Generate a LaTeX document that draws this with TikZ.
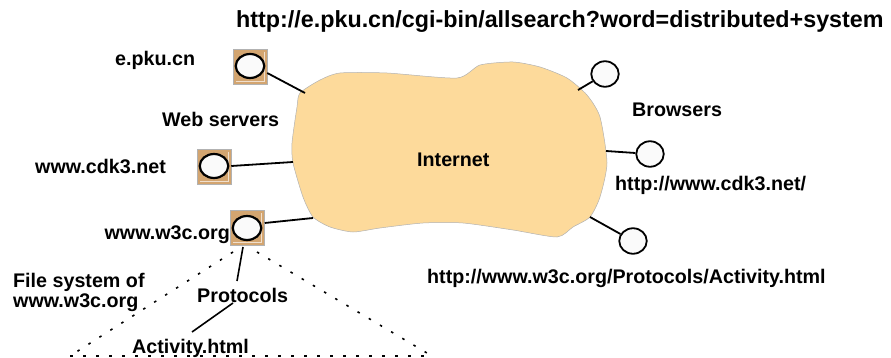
\documentclass[tikz,border=0pt]{standalone}
\usepackage{fontspec}
\setmainfont{Liberation Sans}
\usetikzlibrary{shapes.geometric}
\definecolor{cloudfill}{RGB}{253,218,155}
\definecolor{boxfill}{RGB}{211,165,112}
\definecolor{circfill}{RGB}{250,250,250}
\tikzset{
  lbl/.style={inner sep=0pt, font=\fontsize{19.7}{22}\selectfont\bfseries},
  ttl/.style={inner sep=0pt, font=\fontsize{23.3}{26}\selectfont\bfseries},
  srvbox/.style={draw=gray!60, line width=0.5pt, fill=boxfill, minimum width=34pt, minimum height=35pt, inner sep=0pt},
  srvcirc/.style={ellipse, draw=black, line width=2.2pt, fill=circfill, minimum width=28.5pt, minimum height=24pt, inner sep=0pt},
  brcirc/.style={ellipse, draw=black, line width=1.8pt, fill=circfill, minimum width=27.5pt, minimum height=25.5pt, inner sep=0pt},
  conn/.style={line width=1.8pt, draw=black},
  dotline/.style={line width=1.6pt, dash pattern=on 2.5pt off 10.5pt},
  bevel/.style={draw=white!65!boxfill, line width=0.7pt}
}
\begin{document}
\begin{tikzpicture}[x=1pt,y=-1pt]
\useasboundingbox (0,0) rectangle (891,358);
% cloud
\draw[fill=cloudfill, draw=gray!60, line width=0.5pt] plot[smooth cycle, tension=0.4] coordinates {
(300,93) (320,80) (340,73) (387,73) (457,78) (480,65) (513,62) (540,67) (567,78) (587,95) (600,117) (607,163) (600,197) (590,217) (573,227) (557,237) (513,230) (463,223) (423,223) (380,228) (353,232) (330,227) (313,217) (303,197) (293,163) (292,143) (297,107)};
\coordinate (cA) at (305,93);
\coordinate (cB) at (293,162);
\coordinate (cC) at (313,218);
\coordinate (cD) at (578,90);
\coordinate (cE) at (606,151);
\coordinate (cF) at (590,217);
% title
\node[ttl, anchor=base west] (title) at (236,28) {http://e.pku.cn/cgi-bin/allsearch?word=distributed+system};
% server boxes
\node[srvbox] (box1) at (250,66.5) {};
\node[srvbox] (box2) at (214,166.5) {};
\node[srvbox] (box3) at (247.5,227.5) {};
\foreach \b in {box1,box2,box3}{
  \draw[bevel] ([xshift=-3pt,yshift=-3pt]\b.north east) -- ([xshift=-3pt,yshift=3pt]\b.south east) -- ([xshift=3pt,yshift=3pt]\b.south west);
}
\node[srvcirc] (s1) at (250,66) {};
\node[srvcirc] (s2) at (214,166) {};
\node[srvcirc] (s3) at (247,228) {};
% connectors servers
\draw[conn] (box1.east |- 0,73) coordinate (b1e) -- (cA);
\draw[conn] (box2.east |- 0,166) coordinate (b2e) -- (cB);
\draw[conn] (box3.east |- 0,223) coordinate (b3e) -- (cC);
% browsers
\node[brcirc] (br1) at (605,74) {};
\node[brcirc] (br2) at (650,154) {};
\node[brcirc] (br3) at (633,241) {};
\draw[conn] (cD) -- (br1);
\draw[conn] (cE) -- (br2);
\draw[conn] (cF) -- (br3);
% labels
\node[lbl, anchor=base west] (lpku) at (115,66) {e.pku.cn};
\node[lbl, anchor=base west] (lweb) at (162,127) {Web servers};
\node[lbl, anchor=base west] (lcdk) at (35,174) {www.cdk3.net};
\node[lbl, anchor=base east] (lw3c) at (230,240) {www.w3c.org};
\node[lbl, anchor=base west] (lfs1) at (13,287) {File system of};
\node[lbl, anchor=base west] (lfs2) at (13,307) {www.w3c.org};
\node[lbl, anchor=base west] (lproto) at (197,302) {Protocols};
\node[lbl, anchor=base west] (lact) at (132,353) {Activity.html};
\node[lbl, anchor=base west] (linet) at (417,167) {Internet};
\node[lbl, anchor=base west] (lbrow) at (632,117) {Browsers};
\node[lbl, anchor=base west] (lurl1) at (615,190) {http://www.cdk3.net/};
\node[lbl, anchor=base west] (lurl2) at (427,283) {http://www.w3c.org/Protocols/Activity.html};
% tree
\coordinate (t1) at (243,247);
\coordinate (t2) at (237,281);
\coordinate (t3) at (233,303);
\coordinate (t4) at (192,332);
\draw[line width=1.6pt] (t1) -- (t2);
\draw[line width=1.6pt] (t3) -- (t4);
% dotted triangle
\coordinate (d1) at (233,252);
\coordinate (d2) at (70,356);
\coordinate (d3) at (257,252);
\coordinate (d4) at (432,356);
\draw[dotline] (d1) -- (d2);
\draw[dotline] (d3) -- (d4);
\draw[dotline] (d2) -- (d4);
\end{tikzpicture}
\end{document}
